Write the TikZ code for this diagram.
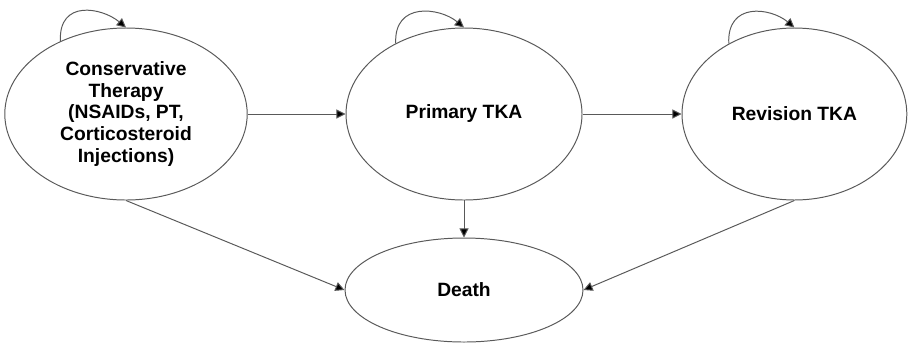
\documentclass[tikz,border=0pt]{standalone}
\usepackage{fontspec}
\setmainfont{Liberation Sans}
\usetikzlibrary{shapes.geometric,arrows.meta}

\tikzset{node distance=1cm}
\tikzset{state/.style={ellipse,draw=black!65,line width=0.7pt,inner sep=0pt,
    align=center,font=\fontsize{13.7}{15.6}\selectfont\bfseries,minimum height=4.3cm},
  trans/.style={draw=black!65,line width=0.7pt,-{Triangle[length=6.5pt,width=6.5pt,fill=black]}}}

\begin{document}
\begin{tikzpicture}
      \useasboundingbox (0,0) rectangle (22.7,-8.625);
      \node [state,minimum width=6.06cm] (cons) at (3.15,-2.85)
        {Conservative\\Therapy\\(NSAIDs, PT,\\Corticosteroid\\Injections)};
      % row 1
      \node [state,minimum width=5.9cm,right of=cons,xshift=7.45cm] (prim) {Primary TKA};
      \node [state,minimum width=5.62cm,right of=prim,xshift=7.26cm] (rev) {Revision TKA};
      % row 2
      \node [state,minimum width=5.95cm,minimum height=2.6cm,below of=prim,yshift=-3.4cm] (death) {Death};

      % self loops
      \draw [trans] (cons.132) .. controls +(-0.05,1.05) and +(-0.6,0.5) .. (cons.north);
      \draw [trans] (prim.134) .. controls +(-0.05,1.05) and +(-0.6,0.5) .. (prim.north);
      \draw [trans] (rev.133) .. controls +(-0.05,1.05) and +(-0.6,0.5) .. (rev.north);

      % links
      \draw [trans] (cons) -- (prim);
      \draw [trans] (prim) -- (rev);
      \draw [trans] (prim) -- (death);
      \draw [trans] (cons.south) -- (death.west);
      \draw [trans] (rev.south) -- (death.east);
    \end{tikzpicture}
\end{document}
